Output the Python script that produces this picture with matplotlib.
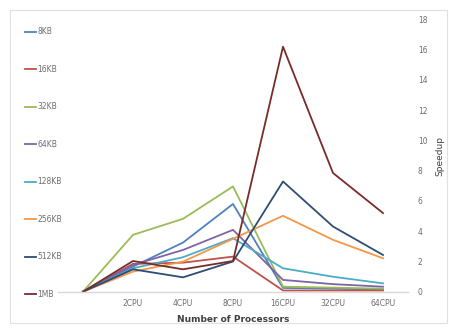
import matplotlib
matplotlib.use("Agg")
import matplotlib.pyplot as plt
from matplotlib.lines import Line2D
from matplotlib.patches import Rectangle

categories = ["", "2CPU", "4CPU", "8CPU", "16CPU", "32CPU", "64CPU"]
series_names = ["8KB", "16KB", "32KB", "64KB", "128KB", "256KB", "512KB", "1MB"]
kb8 = [0, 1.66, 3.25, 5.8, 0.25, 0.2, 0.15]
kb16 = [0, 1.84, 1.92, 2.32, 0.08, 0.08, 0.08]
kb32 = [0, 3.76, 4.82, 6.96, 0.33, 0.27, 0.2]
kb64 = [0, 1.77, 2.76, 4.09, 0.78, 0.5, 0.33]
kb128 = [0, 1.55, 2.28, 3.54, 1.55, 0.99, 0.55]
kb256 = [0, 1.33, 1.99, 3.5, 5.02, 3.43, 2.21]
kb512 = [0, 1.48, 0.95, 2.0, 7.29, 4.31, 2.43]
mb1 = [0, 2.03, 1.48, 2.03, 16.2, 7.85, 5.2]
series_values = [kb8, kb16, kb32, kb64, kb128, kb256, kb512, mb1]
colors = ["#4F81BD", "#C0504D", "#9BBB59", "#8064A2", "#4BACC6", "#F79646", "#2C4D75", "#772C2A"]

W, H = 449, 328
fig = plt.figure(figsize=(W / 100, H / 100), dpi=100)
fig.patches.append(Rectangle((10 / W, 1 - 323 / H), 437 / W, 313 / H, transform=fig.transFigure,
                             fill=False, edgecolor="#E0E0E0", linewidth=0.8))

ax = fig.add_axes([58 / W, 1 - 291.7 / H, 350 / W, 272.2 / H])
x = list(range(len(categories)))
for vals, col in zip(series_values, colors):
    ax.plot(x, vals, color=col, linewidth=1.3)

ax.set_xlim(-0.5, 6.5)
ax.set_ylim(0, 18)
ax.set_yticks(range(0, 19, 2))
ax.set_xticks(x)
ax.set_xticklabels(categories)
ax.yaxis.tick_right()
ax.yaxis.set_label_position("right")
for s in ["top", "left", "right"]:
    ax.spines[s].set_visible(False)
ax.spines["bottom"].set_color("#D9D9D9")
ax.spines["bottom"].set_linewidth(1.0)
ax.tick_params(axis="both", length=0, labelsize=5.5, labelcolor="#6E6E6E")
ax.tick_params(axis="y", pad=7)
ax.tick_params(axis="x", pad=5)
ax.set_xlabel("Number of Processors", fontsize=6.5, fontweight="bold", color="#404040", labelpad=5)
ax.set_ylabel("Speedup", fontsize=6.5, color="#404040", rotation=90, labelpad=6)

# legend on the left, spread vertically
leg_y = [31.7, 69.2, 106.7, 144.2, 181.7, 219.2, 256.7, 294.2]
for name, col, yy in zip(series_names, colors, leg_y):
    fy = 1 - yy / H
    fig.add_artist(Line2D([25 / W, 36 / W], [fy, fy], transform=fig.transFigure, color=col, linewidth=1.3))
    fig.text(37 / W, fy, name, fontsize=5.5, color="#6E6E6E", va="center", ha="left")

fig.savefig("out.png", dpi=100)
